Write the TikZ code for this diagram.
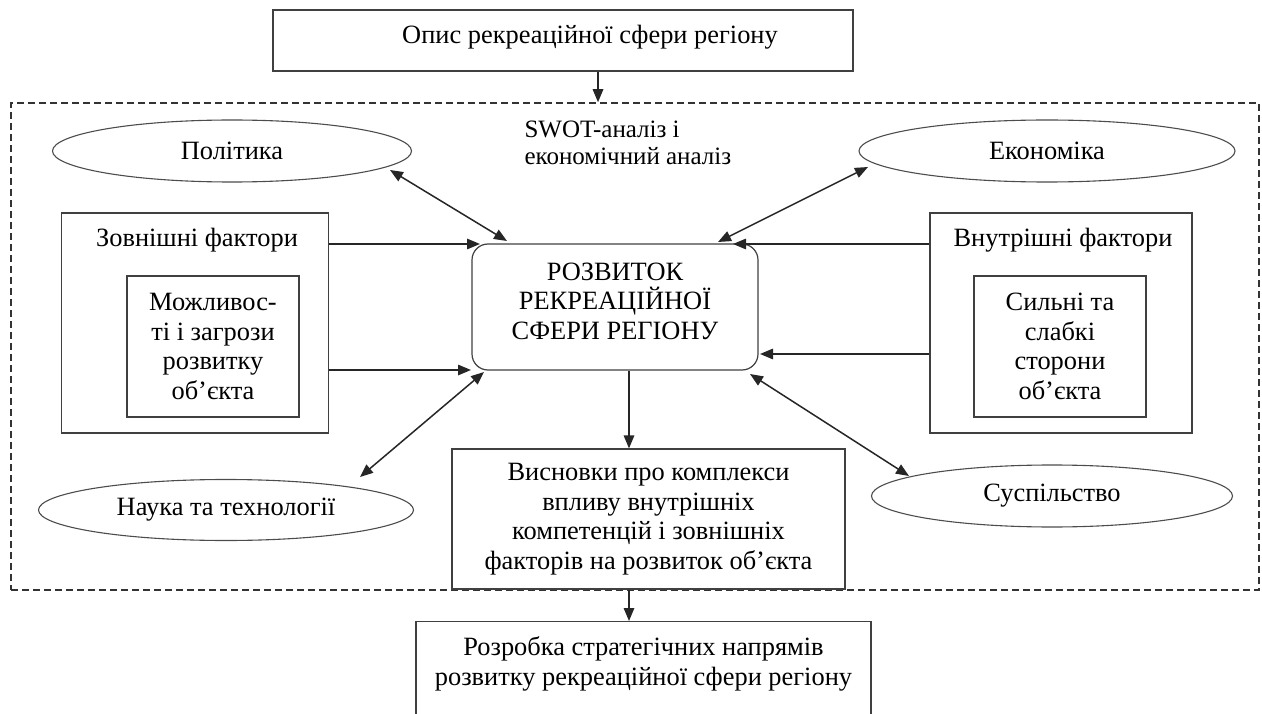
\documentclass[tikz,border=0pt]{standalone}
\usepackage{fontspec}
\setmainfont{Liberation Serif}
\usetikzlibrary{arrows.meta,shapes.geometric}
\begin{document}
\begin{tikzpicture}[x=1pt,y=-1pt,
  every node/.style={font=\fontsize{26.4}{29.5}\selectfont, text=black},
  box/.style={draw=black!75, line width=1.2pt, rectangle, inner sep=0pt, align=center},
  oval/.style={draw=black!70, line width=1.1pt, ellipse, inner sep=0pt},
  arr/.style={draw=black!85, line width=1.5pt, -{Triangle[length=13pt,width=10.5pt]}},
  darr/.style={draw=black!85, line width=1.5pt, {Triangle[length=13pt,width=10.5pt]}-{Triangle[length=13pt,width=10.5pt]}},
  frame/.style={draw=black!80, line width=1.5pt, dash pattern=on 7pt off 4pt, inner sep=0pt}
]
\useasboundingbox (0,0) rectangle (1262,714);

\node[box, minimum width=580pt, minimum height=61pt] (opys) at (563,40.5) {};
\node (opyslbl) at (590,37) {Опис рекреаційної сфери регіону};
\node[frame, minimum width=1248pt, minimum height=487pt] (swot) at (635,346.5) {};
\node[anchor=west, align=left, font=\fontsize{25}{27}\selectfont] (swotlbl) at (521,143) {SWOT-аналіз і\\економічний аналіз};

\node[oval, minimum width=359pt, minimum height=62pt] (pol) at (232,151) {Політика};
\node[oval, minimum width=376pt, minimum height=62pt] (eco) at (1047,151) {Економіка};
\node[oval, minimum width=375pt, minimum height=61pt] (sci) at (226,510) {Наука та технології};
\node[oval, minimum width=361pt, minimum height=62pt] (soc) at (1052,496) {Суспільство};

\node[box, minimum width=267pt, minimum height=220pt] (ext) at (195,323) {};
\node (extlbl) at (197,240) {Зовнішні фактори};
\node[box, minimum width=172pt, minimum height=141pt] (opp) at (213,346.5) {Можливос-\\ті і загрози\\розвитку\\об’єкта};
\node[box, minimum width=262pt, minimum height=220pt] (int) at (1061,323) {};
\node (intlbl) at (1063,240) {Внутрішні фактори};
\node[box, minimum width=172pt, minimum height=141pt] (str) at (1060,346.5) {Сильні та\\слабкі\\сторони\\об’єкта};

\node[box, rounded corners=16pt, minimum width=286pt, minimum height=126pt] (dev) at (615,307) {};
\node[align=center] (devlbl) at (615,301) {РОЗВИТОК\\РЕКРЕАЦІЙНОЇ\\СФЕРИ РЕГІОНУ};

\node[box, minimum width=393pt, minimum height=140pt] (concl) at (648.5,519) {Висновки про комплекси\\впливу внутрішніх\\компетенцій і зовнішніх\\факторів на розвиток об’єкта};
\node[box, minimum width=455pt, minimum height=110pt, anchor=north] (strat) at (643.5,621) {};
\node[align=center] (stratlbl) at (643.5,664) {Розробка стратегічних напрямів\\розвитку рекреаційної сфери регіону};

\coordinate (dTL) at (480,244);
\coordinate (dBL) at (471,370);
\coordinate (dTR) at (733,244);
\coordinate (dBR) at (760,354);
\coordinate (pA) at (390,170); \coordinate (dA) at (507,241);
\coordinate (eA) at (868,167); \coordinate (dB) at (718,242);
\coordinate (sA) at (360,477); \coordinate (dC) at (484,372);
\coordinate (qA) at (909,476); \coordinate (dD) at (750,374);

\draw[arr] ([xshift=35pt]opys.south) -- ([xshift=35pt]opys.south |- swot.north);
\draw[arr] (ext.east |- dTL) -- (dTL);
\draw[arr] (ext.east |- dBL) -- (dBL);
\draw[arr] (int.west |- dTR) -- (dTR);
\draw[arr] (int.west |- dBR) -- (dBR);
\draw[darr] (pA) -- (dA);
\draw[darr] (eA) -- (dB);
\draw[darr] (sA) -- (dC);
\draw[darr] (qA) -- (dD);
\draw[arr] ([xshift=14pt]dev.south) -- ([xshift=14pt]dev.south |- concl.north);
\draw[arr] ([xshift=14pt]dev.south |- concl.south) -- ([xshift=14pt]dev.south |- strat.north);
\end{tikzpicture}
\end{document}
